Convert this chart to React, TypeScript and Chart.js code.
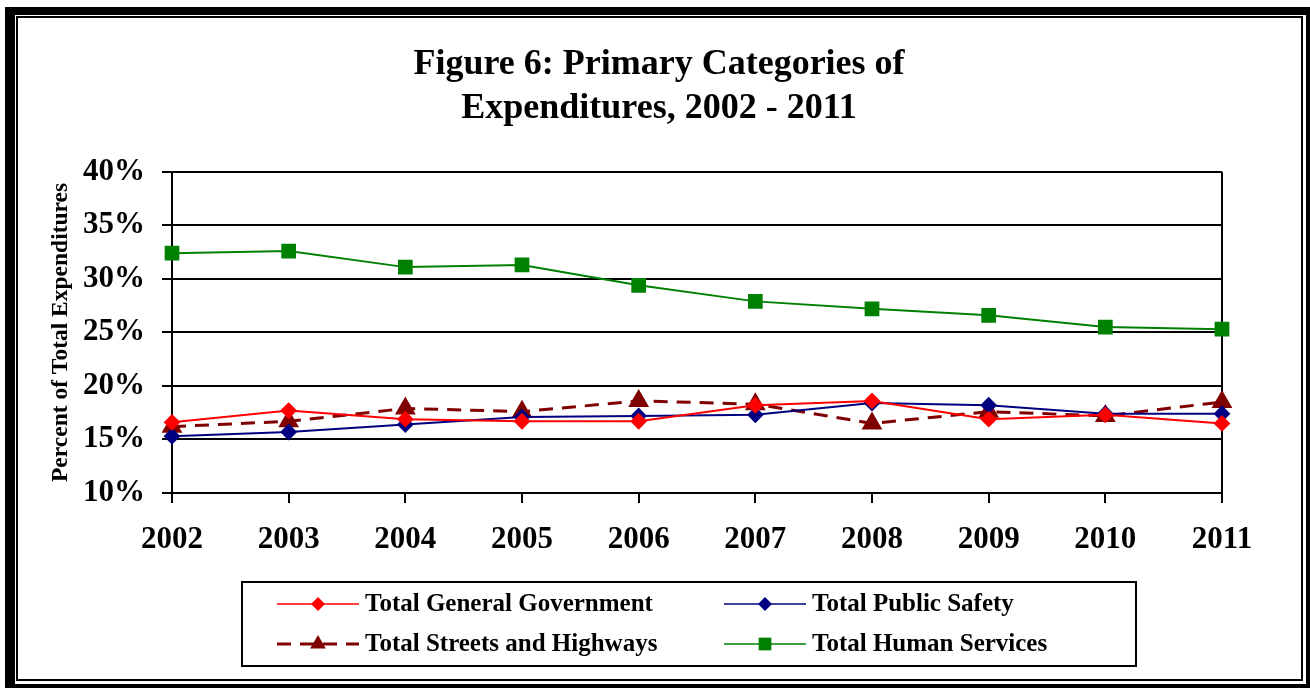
import React, { useEffect, useRef } from "react";
import { Chart, registerables } from "chart.js";

Chart.register(...registerables);

const years = ["2002", "2003", "2004", "2005", "2006", "2007", "2008", "2009", "2010", "2011"];
const generalGovernment = [16.6, 17.7, 16.9, 16.7, 16.7, 18.2, 18.6, 16.9, 17.3, 16.5];
const publicSafety = [15.3, 15.7, 16.4, 17.1, 17.2, 17.3, 18.4, 18.2, 17.4, 17.4];
const streetsHighways = [16.2, 16.7, 17.9, 17.6, 18.6, 18.3, 16.5, 17.6, 17.2, 18.5];
const humanServices = [32.4, 32.6, 31.1, 31.3, 29.4, 27.9, 27.2, 26.6, 25.5, 25.3];
const seriesNames = [
  "Total General Government",
  "Total Public Safety",
  "Total Streets and Highways",
  "Total Human Services",
];
const yMin = 10;
const yMax = 40;
const yStep = 5;
const titleLines = ["Figure 6: Primary Categories of", "Expenditures, 2002 - 2011"];
const yAxisTitle = "Percent of Total Expenditures";

const SERIF = "'Liberation Serif', 'Times New Roman', serif";

function drawMarker(ctx: CanvasRenderingContext2D, style: string, x: number, y: number, r: number) {
  ctx.beginPath();
  if (style === "rectRot") {
    ctx.moveTo(x, y - r);
    ctx.lineTo(x + r, y);
    ctx.lineTo(x, y + r);
    ctx.lineTo(x - r, y);
  } else if (style === "triangle") {
    ctx.moveTo(x, y - r);
    ctx.lineTo(x + r * 0.87, y + r * 0.5);
    ctx.lineTo(x - r * 0.87, y + r * 0.5);
  } else {
    const s = r * Math.SQRT1_2;
    ctx.rect(x - s, y - s, 2 * s, 2 * s);
  }
  ctx.closePath();
  ctx.fill();
}

const legendPlugin = {
  id: "boxLegend",
  afterDraw(chart: any) {
    const ctx: CanvasRenderingContext2D = chart.ctx;
    const boxL = 224, boxT = 564, boxR = 1118, boxB = 648;
    ctx.save();
    ctx.strokeStyle = "#000";
    ctx.lineWidth = 2;
    ctx.strokeRect(boxL, boxT, boxR - boxL, boxB - boxT);
    const rows = [586, 626];
    const cols = [259, 706];
    chart.data.datasets.forEach((ds: any, i: number) => {
      const cx = cols[i % 2];
      const cy = rows[Math.floor(i / 2)];
      ctx.strokeStyle = ds.borderColor;
      ctx.fillStyle = ds.pointBackgroundColor;
      ctx.lineWidth = ds.borderDash ? 3 : 1.6;
      ctx.setLineDash(ds.borderDash || []);
      ctx.beginPath();
      ctx.moveTo(cx, cy);
      ctx.lineTo(cx + 82, cy);
      ctx.stroke();
      ctx.setLineDash([]);
      drawMarker(ctx, ds.pointStyle, cx + 41, cy, ds.pointRadius);
      ctx.fillStyle = "#000";
      ctx.font = `bold 25px ${SERIF}`;
      ctx.textBaseline = "middle";
      ctx.textAlign = "left";
      ctx.fillText(ds.label, cx + 88, cy + 1);
    });
    ctx.restore();
  },
};

const frameRightPlugin = {
  id: "frameRight",
  beforeDatasetsDraw(chart: any) {
    const { ctx, chartArea } = chart;
    ctx.save();
    ctx.strokeStyle = "#000";
    ctx.lineWidth = 2;
    ctx.beginPath();
    ctx.moveTo(chartArea.right, chartArea.top);
    ctx.lineTo(chartArea.right, chartArea.bottom);
    ctx.stroke();
    ctx.restore();
  },
};

export default function App() {
  const ref = useRef<HTMLCanvasElement | null>(null);

  useEffect(() => {
    if (!ref.current) return;
    const chart = new Chart(ref.current, {
      type: "line",
      data: {
        labels: years,
        datasets: [
          {
            label: seriesNames[0],
            data: generalGovernment,
            borderColor: "#ff0000",
            backgroundColor: "#ff0000",
            pointBackgroundColor: "#ff0000",
            pointBorderColor: "#ff0000",
            borderWidth: 2,
            pointStyle: "rectRot",
            pointRadius: 7,
            tension: 0,
          },
          {
            label: seriesNames[1],
            data: publicSafety,
            borderColor: "#000080",
            backgroundColor: "#000080",
            pointBackgroundColor: "#000080",
            pointBorderColor: "#000080",
            borderWidth: 2,
            pointStyle: "rectRot",
            pointRadius: 7,
            tension: 0,
          },
          {
            label: seriesNames[2],
            data: streetsHighways,
            borderColor: "#800000",
            backgroundColor: "#800000",
            pointBackgroundColor: "#800000",
            pointBorderColor: "#800000",
            borderWidth: 3,
            borderDash: [14, 9],
            pointStyle: "triangle",
            pointRadius: 9,
            tension: 0,
          },
          {
            label: seriesNames[3],
            data: humanServices,
            borderColor: "#008000",
            backgroundColor: "#008000",
            pointBackgroundColor: "#008000",
            pointBorderColor: "#008000",
            borderWidth: 2,
            pointStyle: "rect",
            pointRadius: 9,
            tension: 0,
          },
        ],
      } as any,
      options: {
        animation: false,
        responsive: false,
        devicePixelRatio: 1,
        layout: { padding: { left: 0, right: 0, top: 0, bottom: 115 } },
        plugins: {
          legend: { display: false },
          tooltip: { enabled: false },
          title: {
            display: true,
            text: titleLines,
            color: "#000",
            font: { family: SERIF, size: 36, weight: "bold", lineHeight: 1.22 },
            padding: { top: 25, bottom: 41 },
          },
        },
        scales: {
          x: {
            type: "category",
            offset: false,
            grid: {
              display: true,
              drawOnChartArea: false,
              drawTicks: true,
              tickLength: 10,
              color: "#000",
              lineWidth: 2,
            },
            border: { display: true, color: "#000", width: 2 },
            ticks: {
              color: "#000",
              font: { family: SERIF, size: 31, weight: "bold" },
              padding: 18,
              maxRotation: 0,
              autoSkip: false,
            },
            afterFit: (s: any) => {
              s.height = 70;
            },
          },
          y: {
            min: yMin,
            max: yMax,
            ticks: {
              stepSize: yStep,
              color: "#000",
              font: { family: SERIF, size: 31, weight: "bold" },
              padding: 17,
              callback: (v: any) => `${v}%`,
            },
            grid: {
              color: "#000",
              lineWidth: 2,
              tickLength: 10,
              drawTicks: true,
            },
            border: { display: true, color: "#000", width: 2 },
            title: {
              display: true,
              text: yAxisTitle,
              color: "#000",
              font: { family: SERIF, size: 23.5, weight: "bold" },
              padding: { top: 29, bottom: 0 },
            },
            afterFit: (s: any) => {
              s.width = 154;
            },
          },
          yRightSpacer: {
            type: "linear",
            position: "right",
            display: true,
            min: yMin,
            max: yMax,
            grid: { display: false, drawTicks: false },
            border: { display: false },
            ticks: { display: false },
            afterFit: (s: any) => {
              s.width = 78;
            },
          },
        },
      } as any,
      plugins: [frameRightPlugin, legendPlugin],
    });
    return () => chart.destroy();
  }, []);

  return (
    <div style={{ position: "fixed", left: 0, top: 0, width: 1310, height: 690, background: "#fff", overflow: "hidden" }}>
      <div
        style={{
          position: "absolute",
          left: 5,
          top: 7,
          width: 1305,
          height: 681,
          boxSizing: "border-box",
          borderLeft: "10px solid #000",
          borderTop: "8px solid #000",
          borderRight: "4px solid #000",
          borderBottom: "4px solid #000",
        }}
      />
      <div
        style={{
          position: "absolute",
          left: 16,
          top: 16,
          width: 1287,
          height: 665,
          boxSizing: "border-box",
          border: "2px solid #000",
        }}
      />
      <canvas
        ref={ref}
        width={1282}
        height={660}
        style={{ position: "absolute", left: 18, top: 18, width: 1282, height: 660 }}
      />
    </div>
  );
}
